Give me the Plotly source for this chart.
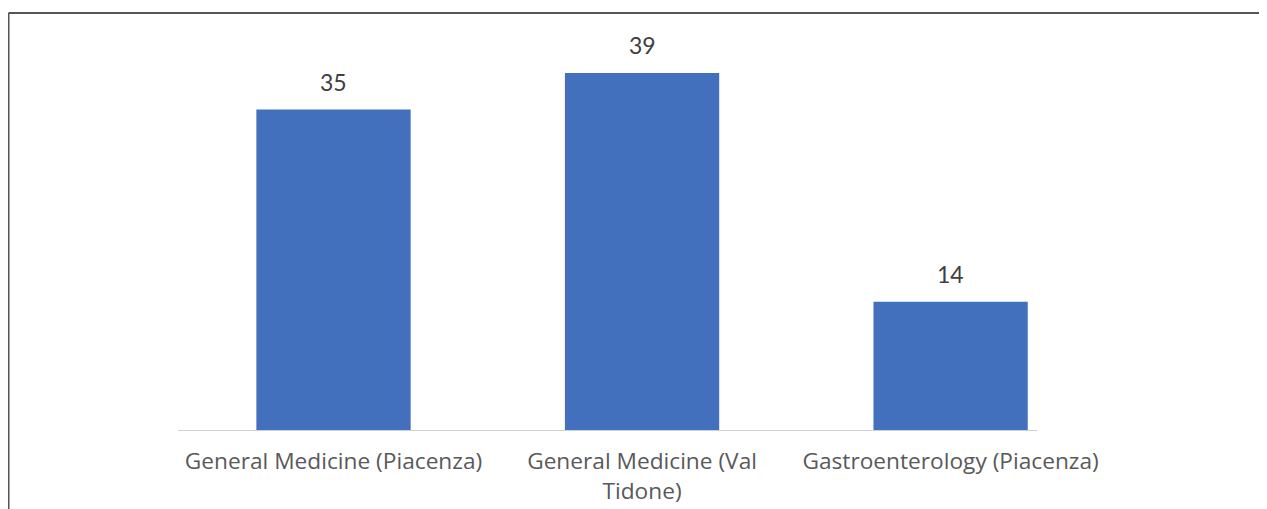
import plotly.graph_objects as go

categories = ["General Medicine (Piacenza)", "General Medicine (Val<br>Tidone)", "Gastroenterology (Piacenza)"]
values = [35, 39, 14]

fig = go.Figure()
fig.add_trace(go.Bar(
    x=categories, y=values, width=0.5,
    marker=dict(color="#4270bd", line=dict(width=0)),
    hoverinfo="skip",
))

for c, v in zip(categories, values):
    fig.add_annotation(x=c, y=v, text=str(v), showarrow=False, yanchor="bottom",
                       yshift=12, font=dict(family="Lato", size=23, color="#404040"))

# outer frame lines
fig.add_shape(type="line", xref="paper", yref="paper", x0=-0.1973, x1=1.3, y0=1.017, y1=1.017,
              line=dict(color="#555555", width=2))
fig.add_shape(type="line", xref="paper", yref="paper", x0=-0.1973, x1=-0.1973, y0=1.017, y1=-0.3,
              line=dict(color="#555555", width=2))

fig.update_layout(
    width=1267, height=509,
    margin=dict(l=170, r=238, t=12, b=87),
    paper_bgcolor="white", plot_bgcolor="white",
    showlegend=False,
    xaxis=dict(type="category", range=[-0.504, 2.280], showline=True, linecolor="#d0d0d0", linewidth=1,
               ticks="", ticklabelstandoff=11, showgrid=False,
               tickfont=dict(family="Open Sans", size=22.7, color="#595959")),
    yaxis=dict(range=[0, 44.79], visible=False, showgrid=False),
)

fig.write_html("out.html")
